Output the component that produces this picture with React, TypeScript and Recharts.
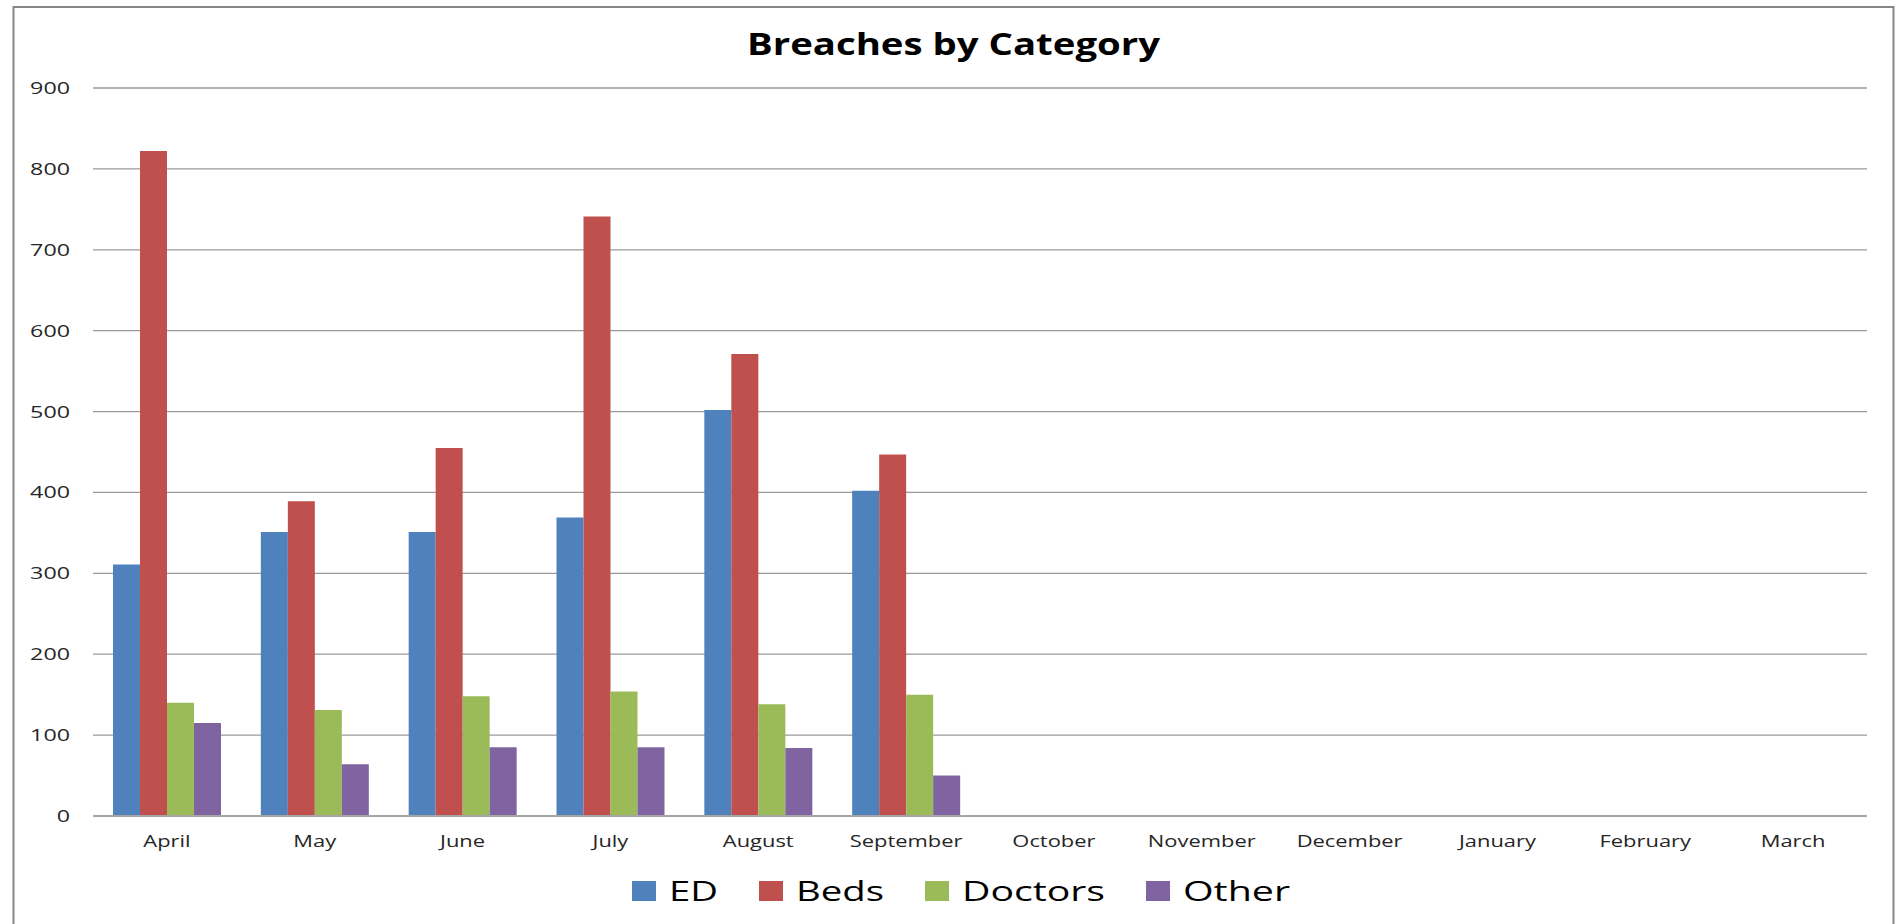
import React from 'react';
import { BarChart, Bar, XAxis, YAxis, CartesianGrid } from 'recharts';

const chartTitle = 'Breaches by Category';
const months = ['April', 'May', 'June', 'July', 'August', 'September', 'October', 'November', 'December', 'January', 'February', 'March'];
const edValues = [311, 351, 351, 369, 502, 402, null, null, null, null, null, null];
const bedsValues = [822, 389, 455, 741, 571, 447, null, null, null, null, null, null];
const doctorsValues = [140, 131, 148, 154, 138, 150, null, null, null, null, null, null];
const otherValues = [115, 64, 85, 85, 84, 50, null, null, null, null, null, null];
const seriesNames = ['ED', 'Beds', 'Doctors', 'Other'];
const seriesColors = ['#4F81BD', '#C0504D', '#9BBB59', '#8064A2'];
const yTicks = [0, 100, 200, 300, 400, 500, 600, 700, 800, 900];

const seriesValues = [edValues, bedsValues, doctorsValues, otherValues];
const data = months.map((m, i) => {
  const row: Record<string, any> = { month: m };
  seriesNames.forEach((s, k) => { row[s] = seriesValues[k][i]; });
  return row;
});

const FONT = '"Open Sans", sans-serif';
const STRETCH = 1.37;
const W = 1903;
const H = 924;

const XTick = (props: any) => {
  const { x, y, payload } = props;
  return (
    <text transform={`translate(${x} ${y + 31}) scale(${STRETCH} 1)`} textAnchor="middle" fontFamily={FONT} fontSize={16} fill="#262626">
      {payload.value}
    </text>
  );
};

const YTick = (props: any) => {
  const { x, y, payload } = props;
  return (
    <text transform={`translate(${x} ${y + 6}) scale(${STRETCH} 1)`} textAnchor="end" fontFamily={FONT} fontSize={17} fill="#262626">
      {payload.value}
    </text>
  );
};

const legendTextWidths = [49, 88, 143, 107];

export default function App() {
  const legendItems: any[] = [];
  let cx = 632;
  seriesNames.forEach((name, i) => {
    legendItems.push(
      <g key={name}>
        <rect x={cx} y={881} width={24} height={20} fill={seriesColors[i]} />
        <text x={cx + 37} y={901} fontFamily={FONT} fontSize={28} fill="#000" textLength={legendTextWidths[i]} lengthAdjust="spacingAndGlyphs">{name}</text>
      </g>
    );
    cx += 24 + 13 + legendTextWidths[i] + 41;
  });

  return (
    <div style={{ position: 'absolute', left: 0, top: 0, width: W, height: H, background: '#fff', overflow: 'hidden' }}>
      <BarChart width={W} height={H} data={data} margin={{ top: 88, right: 36, bottom: 78, left: 13 }} barGap={0} barSize={27}>
        <CartesianGrid horizontal={true} vertical={false} stroke="#9a9a9a" strokeWidth={1.3} />
        <XAxis dataKey="month" axisLine={{ stroke: '#a6a6a6', strokeWidth: 2 }} tickLine={false} tickSize={0} tickMargin={0} height={30} tick={<XTick />} interval={0} />
        <YAxis domain={[0, 900]} ticks={yTicks} axisLine={false} tickLine={false} tickSize={0} tickMargin={23} width={80} tick={<YTick />} interval={0} />
        {seriesNames.map((s, i) => (
          <Bar key={s} dataKey={s} fill={seriesColors[i]} isAnimationActive={false} />
        ))}
      </BarChart>
      <svg width={W} height={H} style={{ position: 'absolute', left: 0, top: 0, pointerEvents: 'none' }}>
        <rect x={13.5} y={7} width={1880} height={940} fill="none" stroke="#868686" strokeWidth={2} />
        <text x={953.5} y={55} textAnchor="middle" fontFamily={FONT} fontWeight={700} fontSize={31} fill="#000" textLength={413} lengthAdjust="spacingAndGlyphs">{chartTitle}</text>
        {legendItems}
      </svg>
    </div>
  );
}
